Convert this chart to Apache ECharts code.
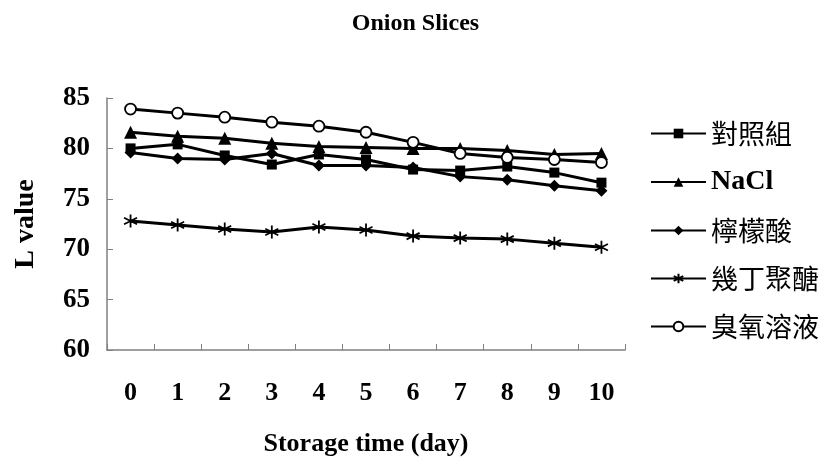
<!DOCTYPE html>
<html><head><meta charset="utf-8">
<script src="https://cdn.jsdelivr.net/npm/echarts@6/dist/echarts.min.js"></script>
<style>html,body{margin:0;padding:0;background:#fff}#c{width:831px;height:468px}</style>
</head><body><div id="c"></div>
<script>
const categories = ['0','1','2','3','4','5','6','7','8','9','10'];
const seriesNames = ['對照組','NaCl','檸檬酸','幾丁聚醣','臭氧溶液'];
const control = [80.0,80.4,79.3,78.4,79.4,78.9,77.9,77.8,78.2,77.6,76.6];
const nacl = [81.6,81.2,81.0,80.5,80.2,80.1,80.0,80.0,79.8,79.4,79.5];
const citric = [79.6,79.0,78.9,79.5,78.3,78.3,78.1,77.2,76.9,76.3,75.8];
const chitosan = [72.8,72.4,72.0,71.7,72.2,71.9,71.3,71.1,71.0,70.6,70.2];
const ozone = [83.9,83.5,83.1,82.6,82.2,81.6,80.6,79.5,79.1,78.9,78.6];
const yTicks = {min:60, max:85, interval:5};

const serif = '"Liberation Serif","Times New Roman",serif';
const cjk = '"Noto Sans CJK TC","Liberation Serif",serif';
const asterisk = 'path://M5,0L5,10M0.7,2.5L9.3,7.5M9.3,2.5L0.7,7.5';

function mk(name, data, symbol, size, extra){
  return Object.assign({
    name, type:'line', data, symbol, symbolSize:size,
    lineStyle:{color:'#000', width:3},
    itemStyle:{color:'#000', borderColor:'#000', borderWidth:0},
    emphasis:{disabled:true}, animation:false
  }, extra||{});
}

const chart = echarts.init(document.getElementById('c'));
chart.setOption({
  animation:false,
  title:{text:'Onion Slices', left:'center', top:7,
    textStyle:{fontFamily:serif, fontWeight:'bold', fontSize:24, color:'#000'}},
  grid:{left:107, right:206, top:98, bottom:118},
  legend:{orient:'vertical', left:645, top:115, itemGap:21, itemWidth:55, itemHeight:12,
    data:seriesNames.map(n=>({name:n, textStyle: n==='NaCl'?{fontFamily:serif,fontWeight:'bold',fontSize:28,color:'#000'}:{fontFamily:cjk,fontSize:27,color:'#000'}})),
    textStyle:{fontSize:27, color:'#000', fontFamily:cjk}
  },
  xAxis:{type:'category', data:categories, boundaryGap:true,
    name:'Storage time (day)', nameLocation:'middle', nameGap:81,
    nameTextStyle:{fontFamily:serif, fontWeight:'bold', fontSize:26, color:'#000'},
    axisLine:{lineStyle:{color:'#808080', width:1.5}},
    axisTick:{show:true, length:6, inside:true, lineStyle:{color:'#808080'}},
    axisLabel:{margin:30, fontFamily:serif, fontWeight:'bold', fontSize:26, color:'#000', interval:0},
    splitLine:{show:false}},
  yAxis:{type:'value', min:yTicks.min, max:yTicks.max, interval:yTicks.interval,
    name:'L value', nameLocation:'middle', nameGap:67,
    nameTextStyle:{fontFamily:serif, fontWeight:'bold', fontSize:28, color:'#000'},
    axisLine:{show:true, lineStyle:{color:'#808080', width:1.5}},
    axisTick:{show:true, length:6, inside:true, lineStyle:{color:'#808080'}},
    axisLabel:{margin:17, fontFamily:serif, fontWeight:'bold', fontSize:27, color:'#000'},
    splitLine:{show:false}},
  series:[
    mk(seriesNames[0], control, 'rect', 10),
    mk(seriesNames[1], nacl, 'triangle', 13),
    mk(seriesNames[2], citric, 'diamond', 12),
    mk(seriesNames[3], chitosan, asterisk, 13, {itemStyle:{color:'none', borderColor:'#000', borderWidth:1.8}}),
    mk(seriesNames[4], ozone, 'circle', 11, {itemStyle:{color:'#fff', borderColor:'#000', borderWidth:1.8}})
  ]
});
</script></body></html>
